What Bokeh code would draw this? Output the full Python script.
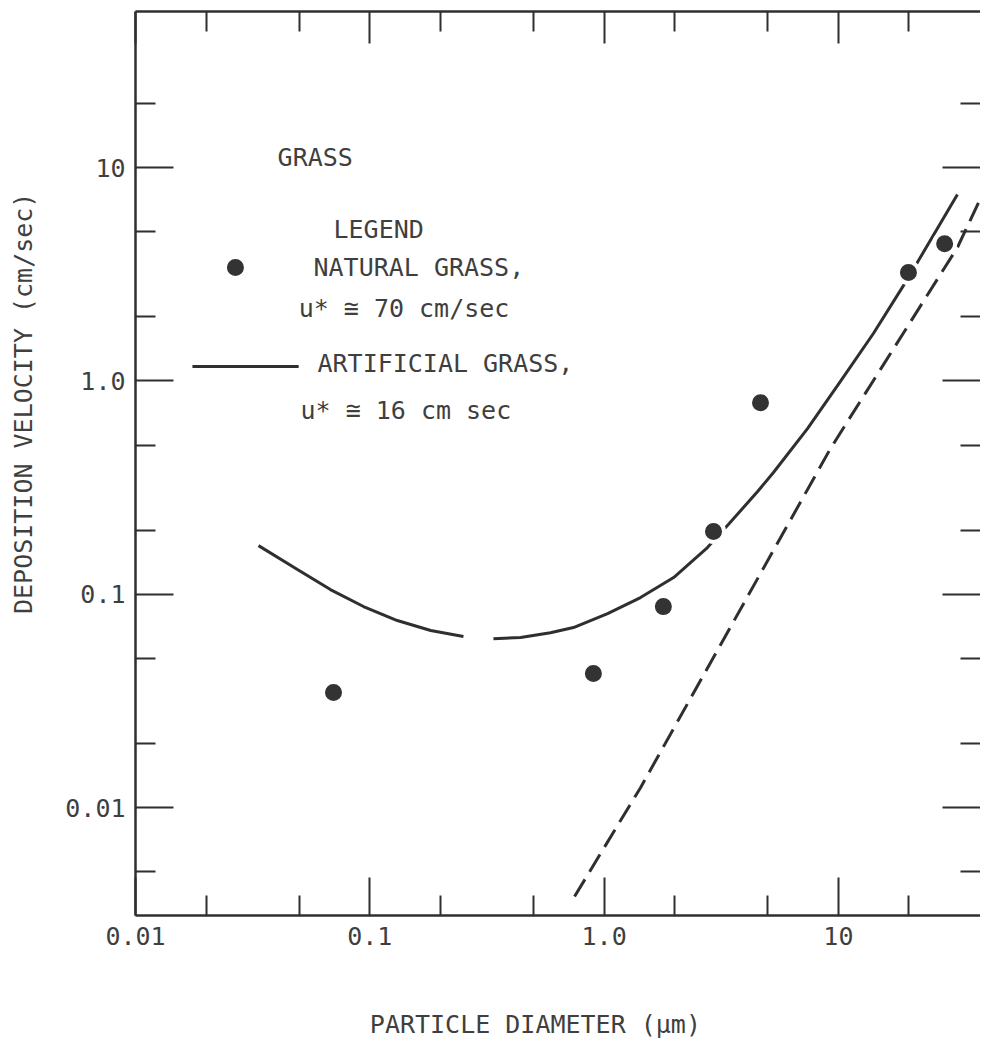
from bokeh.plotting import figure
from bokeh.models import (FixedTicker, CustomJSTickFormatter, LogAxis, Range1d, Label)
from bokeh.embed import file_html
from bokeh.resources import INLINE

# ---------------- data ----------------
x_major_ticks = [0.01, 0.1, 1.0, 10.0]
x_tick_labels = ["0.01", "0.1", "1.0", "10"]
x_minor_ticks = [0.02, 0.05, 0.2, 0.5, 2.0, 5.0, 20.0]

y_major_ticks = [0.01, 0.1, 1.0, 10.0]
y_tick_labels = ["0.01", "0.1", "1.0", "10"]
y_minor_ticks = [0.005, 0.02, 0.05, 0.2, 0.5, 2.0, 5.0, 20.0]

# natural grass, u* ~ 70 cm/sec (dots)
natural_d = [0.070, 0.90, 1.79, 2.93, 4.65, 19.9, 28.4]
natural_v = [0.0346, 0.0425, 0.0875, 0.197, 0.79, 3.22, 4.40]

# artificial grass, u* ~ 16 cm/sec (solid curve, broken near 0.3 um)
nan = float("nan")
artificial_d = [0.0335, 0.0491, 0.0679, 0.094, 0.131, 0.182, 0.251, nan,
                0.337, 0.44, 0.59, 0.74, 1.035, 1.43, 1.98, 2.76, 3.36,
                4.52, 5.28, 7.38, 10.2, 14.1, 19.9, 32.2]
artificial_v = [0.169, 0.1306, 0.1052, 0.0876, 0.0753, 0.0676, 0.0634, nan,
                0.0619, 0.0627, 0.066, 0.0698, 0.0812, 0.0965, 0.1197, 0.1656, 0.21,
                0.303, 0.372, 0.598, 0.994, 1.668, 3.05, 7.48]

# dashed line (settling)
settling_d = [0.748, 1.43, 9.25, 32.2, 40.0]
settling_v = [0.00383, 0.0124, 0.482, 4.22, 7.0]

# legend symbols drawn inside the plot
legend_dot_d = [0.0267]
legend_dot_v = [3.40]
legend_line_d = [0.0175, 0.0497]
legend_line_v = [1.167, 1.167]

# ---------------- styles ----------------
FONT = "DejaVu Sans Mono"
FS = "25px"
INK = "#2f2f2f"
TXT = "#3f3f3f"
NB = "\u00a0"

p = figure(width=980, height=1042, x_axis_type="log", y_axis_type="log",
           x_range=Range1d(0.01, 40.4), y_range=Range1d(0.00312, 53.9),
           output_backend="svg", toolbar_location=None,
           min_border_left=135, min_border_right=0, min_border_top=11,
           min_border_bottom=127)
p.outline_line_color = None
p.background_fill_color = "white"
p.border_fill_color = "white"
p.grid.visible = False

fmt_code = """
for (let i = 0; i < t.length; i++) {
  if (Math.abs(Math.log10(tick) - Math.log10(t[i])) < 1e-6) return l[i];
}
return '';
"""


def style_axis(ax, ticks, minors, labels, major_in=38):
    ax.ticker = FixedTicker(ticks=ticks, minor_ticks=minors)
    if labels is None:
        ax.formatter = CustomJSTickFormatter(code="return '';")
        ax.major_label_text_font_size = "0px"
        ax.major_label_standoff = 0
    else:
        ax.formatter = CustomJSTickFormatter(args=dict(t=ticks, l=labels), code=fmt_code)
        ax.major_label_text_font = FONT
        ax.major_label_text_font_size = FS
        ax.major_label_text_color = TXT
        ax.major_label_standoff = 10
    ax.major_tick_in = major_in
    ax.major_tick_out = 0
    ax.minor_tick_in = 20
    ax.minor_tick_out = 0
    ax.major_tick_line_color = INK
    ax.minor_tick_line_color = INK
    ax.major_tick_line_width = 2
    ax.minor_tick_line_width = 2
    ax.axis_line_color = INK
    ax.axis_line_width = 2.5
    ax.axis_label_text_font = FONT
    ax.axis_label_text_font_size = FS
    ax.axis_label_text_font_style = "normal"
    ax.axis_label_text_color = TXT


xa = p.xaxis[0]
style_axis(xa, x_major_ticks, x_minor_ticks, x_tick_labels)
xa.major_label_standoff = 11
xa.axis_label = "PARTICLE DIAMETER (\u03bcm)" + NB * 3
xa.axis_label_standoff = 62

ya = p.yaxis[0]
style_axis(ya, y_major_ticks, y_minor_ticks, y_tick_labels)
ya.axis_label = NB * 8 + "DEPOSITION VELOCITY (cm/sec)"
ya.axis_label_standoff = 24

top = LogAxis()
style_axis(top, x_major_ticks, x_minor_ticks, None, major_in=32)
p.add_layout(top, "above")

right = LogAxis()
style_axis(right, y_major_ticks, y_minor_ticks, None)
right.axis_line_color = None
p.add_layout(right, "right")

# curves
p.line(settling_d, settling_v, line_color=INK, line_width=3, line_dash="20 9")
p.line(artificial_d, artificial_v, line_color=INK, line_width=3, line_join="round")
p.line(legend_line_d, legend_line_v, line_color=INK, line_width=3)

# dots
p.scatter(natural_d, natural_v, size=21, fill_color="#333333",
          line_color="white", line_width=4)
p.scatter(legend_dot_d, legend_dot_v, size=21, fill_color="#333333",
          line_color="white", line_width=4)

# texts
for tx, ty, txt in [
    (0.0404, 11.15, "GRASS"),
    (0.070, 5.13, "LEGEND"),
    (0.0575, 3.40, "NATURAL GRASS,"),
    (0.0497, 2.18, "u* \u2245 70 cm/sec"),
    (0.0598, 1.207, "ARTIFICIAL GRASS,"),
    (0.0506, 0.726, "u* \u2245 16 cm sec"),
]:
    p.add_layout(Label(x=tx, y=ty, text=txt, text_font=FONT, text_font_size=FS,
                       text_color=TXT, text_align="left", text_baseline="alphabetic"))

open("out.html", "w").write(file_html(p, INLINE))
